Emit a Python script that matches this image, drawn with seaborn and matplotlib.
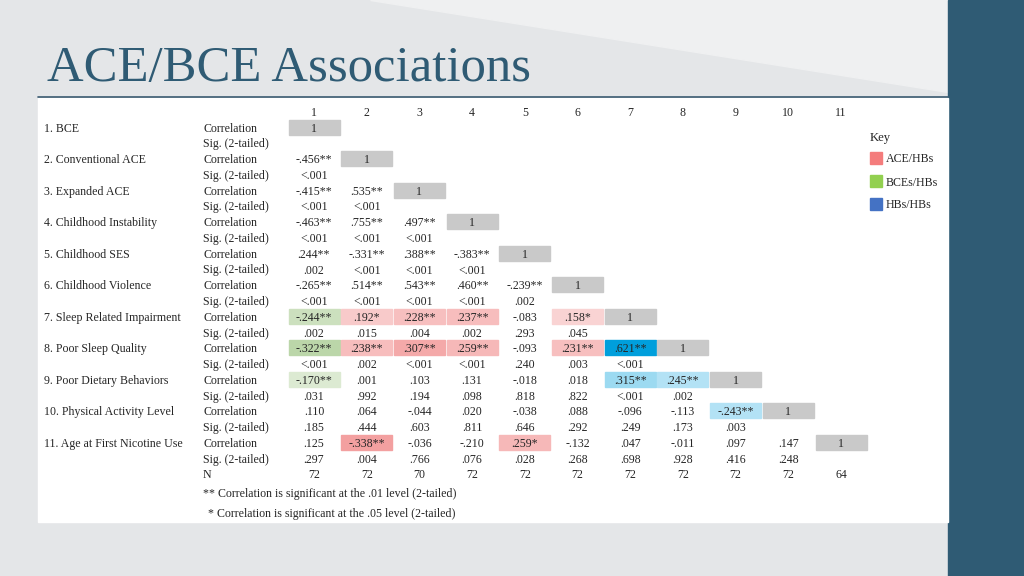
import matplotlib
matplotlib.use("Agg")
import matplotlib.pyplot as plt
import matplotlib.patches as mpatches
import seaborn as sns

# table data
variables = ["1. BCE", "2. Conventional ACE", "3. Expanded ACE", "4. Childhood Instability",
             "5. Childhood SES", "6. Childhood Violence", "7. Sleep Related Impairment",
             "8. Poor Sleep Quality", "9. Poor Dietary Behaviors", "10. Physical Activity Level",
             "11. Age at First Nicotine Use"]
corr = [
    [],
    ["-.456**"],
    ["-.415**", ".535**"],
    ["-.463**", ".755**", ".497**"],
    [".244**", "-.331**", ".388**", "-.383**"],
    ["-.265**", ".514**", ".543**", ".460**", "-.239**"],
    ["-.244**", ".192*", ".228**", ".237**", "-.083", ".158*"],
    ["-.322**", ".238**", ".307**", ".259**", "-.093", ".231**", ".621**"],
    ["-.170**", ".001", ".103", ".131", "-.018", ".018", ".315**", ".245**"],
    [".110", ".064", "-.044", ".020", "-.038", ".088", "-.096", "-.113", "-.243**"],
    [".125", "-.338**", "-.036", "-.210", ".259*", "-.132", ".047", "-.011", ".097", ".147"],
]
sig = [
    [],
    ["<.001"],
    ["<.001", "<.001"],
    ["<.001", "<.001", "<.001"],
    [".002", "<.001", "<.001", "<.001"],
    ["<.001", "<.001", "<.001", "<.001", ".002"],
    [".002", ".015", ".004", ".002", ".293", ".045"],
    ["<.001", ".002", "<.001", "<.001", ".240", ".003", "<.001"],
    [".031", ".992", ".194", ".098", ".818", ".822", "<.001", ".002"],
    [".185", ".444", ".603", ".811", ".646", ".292", ".249", ".173", ".003"],
    [".297", ".004", ".766", ".076", ".028", ".268", ".698", ".928", ".416", ".248"],
]
n_vals = [72, 72, 70, 72, 72, 72, 72, 72, 72, 72, 64]
key_labels = ["ACE/HBs", "BCEs/HBs", "HBs/HBs"]
key_colors = ["#f47c7c", "#92d050", "#4472c4"]

sns.set_theme(style="white")
serif = "Liberation Serif"
fig = plt.figure(figsize=(10.24, 5.76), dpi=100)
ax = fig.add_axes([0, 0, 1, 1])
ax.set_xlim(0, 1024)
ax.set_ylim(576, 0)
ax.axis("off")

# slide background
ax.add_patch(mpatches.Rectangle((0, 0), 1024, 576, color="#e4e6e8", zorder=0))
ax.add_patch(mpatches.Polygon([(370, 0), (948, 0), (948, 92)], color="#eff0f1", zorder=0))
ax.add_patch(mpatches.Rectangle((948, 0), 76, 576, color="#2f5b74", zorder=1))
ax.add_patch(mpatches.Rectangle((38, 98), 910, 424, color="white", zorder=1))
ax.plot([38, 948], [97, 97], color="#3a5a70", lw=1.2, zorder=2)
ax.text(47, 81, "ACE/BCE Associations", fontsize=36.5, family=serif, color="#2f5b74",
        va="baseline", zorder=3)

col_x = [314 + 52.7 * j for j in range(11)]
row_y = [127 + 31.55 * i for i in range(11)]
fs = 8.6
cw, ch = 51, 15
tva = "center_baseline"

red = sns.blend_palette(["white", "#e84848"], 101)
green = sns.blend_palette(["white", "#5e9e33"], 101)
blue = sns.blend_palette(["white", "#009fdc"], 101)


def cell_color(i, j, s):
    if i < 6 or "*" not in s:
        return None
    v = abs(float(s.replace("*", "")))
    if j == 0:
        return green[min(100, int(v / 0.75 * 100))]
    if j <= 5:
        return red[min(100, int(v / 0.65 * 100))]
    if v > 0.5:
        return blue[100]
    return blue[min(100, int(v / 0.8 * 100))]


for j, x in enumerate(col_x):
    ax.text(x, 111, str(j + 1), ha="center", va=tva, fontsize=fs, family=serif, zorder=3)

for i, name in enumerate(variables):
    y = row_y[i]
    ax.text(44, y, name, va=tva, fontsize=fs, family=serif, zorder=3)
    ax.text(203, y, "Correlation", va=tva, fontsize=fs, family=serif, zorder=3)
    ax.text(203, y + 15.8, "Sig. (2-tailed)", va=tva, fontsize=fs, family=serif, zorder=3)
    for j, s in enumerate(corr[i]):
        c = cell_color(i, j, s)
        if c is not None:
            ax.add_patch(mpatches.Rectangle((col_x[j] - cw / 2, y - ch / 2), cw, ch, color=c, zorder=2))
        ax.text(col_x[j], y, s, ha="center", va=tva, fontsize=fs, family=serif, zorder=3)
    for j, s in enumerate(sig[i]):
        ax.text(col_x[j], y + 15.8, s, ha="center", va=tva, fontsize=fs, family=serif, zorder=3)
    ax.add_patch(mpatches.Rectangle((col_x[i] - cw / 2, y - ch / 2), cw, ch, color="#c9c9c9", zorder=2))
    ax.text(col_x[i], y, "1", ha="center", va=tva, fontsize=fs, family=serif, zorder=3)

ax.text(203, 473, "N", va=tva, fontsize=fs, family=serif, zorder=3)
for j, n in enumerate(n_vals):
    ax.text(col_x[j], 473, str(n), ha="center", va=tva, fontsize=fs, family=serif, zorder=3)
ax.text(203, 492, "** Correlation is significant at the .01 level (2-tailed)", va=tva,
        fontsize=fs, family=serif, zorder=3)
ax.text(208, 513, "* Correlation is significant at the .05 level (2-tailed)", va=tva,
        fontsize=fs, family=serif, zorder=3)

# key
ax.text(870, 136, "Key", va=tva, fontsize=fs + 0.5, family=serif, zorder=3)
for k, (lab, c) in enumerate(zip(key_labels, key_colors)):
    yy = 158 + 23 * k
    ax.add_patch(mpatches.Rectangle((870, yy - 6), 12, 12, color=c, zorder=3))
    ax.text(886, yy, lab, va=tva, fontsize=fs, family=serif, zorder=3)

fig.savefig("out.png", dpi=100)
